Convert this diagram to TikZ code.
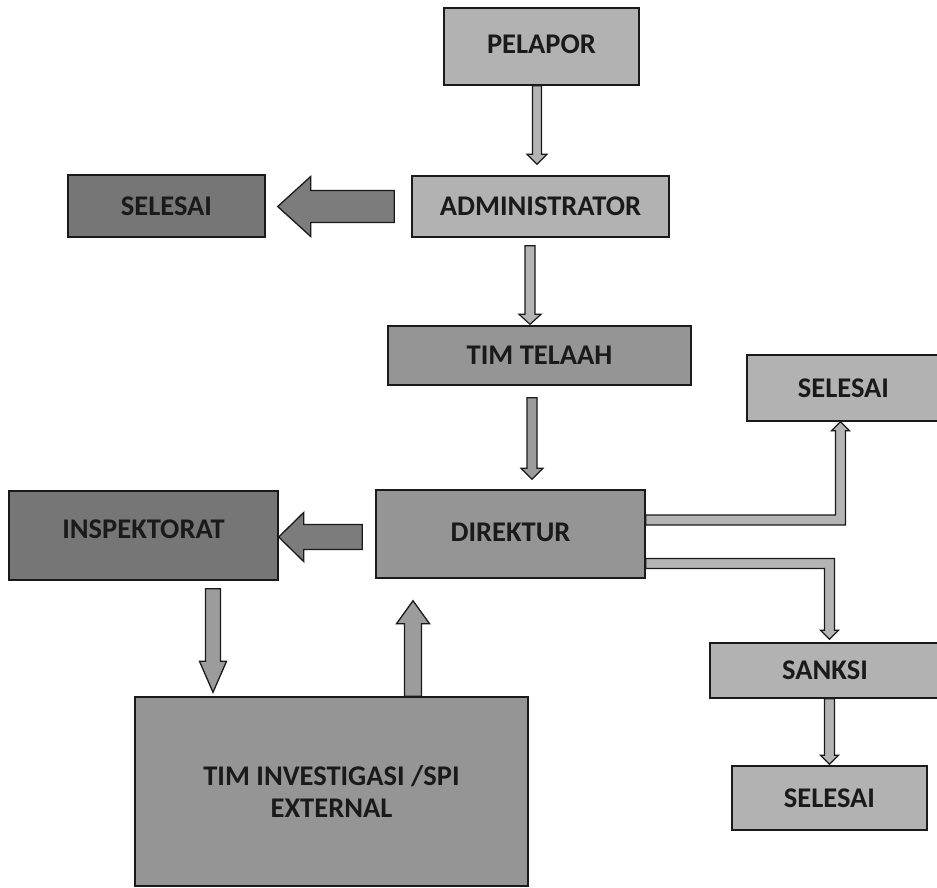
\documentclass[tikz,border=0pt]{standalone}
\usepackage{fontspec}
\setmainfont{Carlito}
\usetikzlibrary{calc}
\definecolor{boxlight}{HTML}{B2B2B2}
\definecolor{boxmid}{HTML}{959595}
\definecolor{boxdark}{HTML}{767676}
\definecolor{arrlight}{HTML}{B4B4B4}
\definecolor{arrmid}{HTML}{9C9C9C}
\definecolor{arrdark}{HTML}{7C7C7C}
\definecolor{inkc}{HTML}{1A1A1A}
\newcommand{\blockarr}[6][]{%
  \coordinate (bac) at ($(#3)!#6!(#2)$);
  \draw[#1] ($(#2)!#4!90:(#3)$) -- ($(bac)!#4!90:(#3)$) -- ($(bac)!#5!90:(#3)$) -- (#3)
    -- ($(bac)!#5!-90:(#3)$) -- ($(bac)!#4!-90:(#3)$) -- ($(#2)!#4!-90:(#3)$) -- cycle;
}
\tikzset{
  box/.style={draw=inkc, line width=1.4pt, inner sep=0pt, anchor=center, text=inkc,
    font=\bfseries\fontsize{28.5}{32}\selectfont, align=center},
  lightbox/.style={box, fill=boxlight},
  midbox/.style={box, fill=boxmid},
  darkbox/.style={box, fill=boxdark},
  thinarr/.style={draw=inkc, line width=1.2pt, fill=arrlight, line join=miter},
  bigarr/.style={draw=inkc, line width=1.3pt, fill=arrdark, line join=miter},
  medarr/.style={draw=inkc, line width=1.3pt, fill=arrmid, line join=miter},
}
\begin{document}
\begin{tikzpicture}[x=1pt,y=-1pt]
\useasboundingbox[fill=white] (0,0) rectangle (937,888);

% boxes
\node[lightbox, minimum width=195pt, minimum height=77pt] (pel) at (541.5,46.5) {\raisebox{4pt}{PELAPOR}};
\node[lightbox, minimum width=257pt, minimum height=61pt] (adm) at (540.5,206.5) {ADMINISTRATOR};
\node[darkbox, minimum width=197pt, minimum height=62pt] (sel1) at (166.5,206) {SELESAI};
\node[midbox, minimum width=303pt, minimum height=59pt] (tim) at (539.5,355.5) {TIM TELAAH};
\node[lightbox, minimum width=193pt, minimum height=66pt] (sel2) at (843.5,388) {SELESAI};
\node[midbox, minimum width=269pt, minimum height=88pt] (dir) at (510.5,534) {\raisebox{3pt}{DIREKTUR}};
\node[darkbox, minimum width=269pt, minimum height=89pt] (insp) at (143.5,535.5) {\raisebox{12pt}{INSPEKTORAT}};
\node[midbox, minimum width=393pt, minimum height=189pt] (inv) at (331.5,791.5) {TIM INVESTIGASI /SPI\\EXTERNAL};
\node[lightbox, minimum width=230pt, minimum height=55pt] (sanksi) at (825,670.5) {SANKSI};
\node[lightbox, minimum width=195pt, minimum height=64pt] (sel3) at (829.5,798) {SELESAI};

% thin arrows
\coordinate (a1s) at ([xshift=-4.5pt]pel.south);
\coordinate (a1e) at ([xshift=-3.5pt,yshift=11pt]adm.north);
\blockarr[thinarr]{a1s}{a1e}{4.5pt}{10pt}{10pt}

\coordinate (a2s) at ([xshift=-10.5pt,yshift=-8pt]adm.south);
\coordinate (a2e) at ([xshift=-9.5pt,yshift=1pt]tim.north);
\blockarr[thinarr]{a2s}{a2e}{5pt}{11pt}{10pt}

\coordinate (a3s) at ([xshift=-7.5pt,yshift=-12pt]tim.south);
\coordinate (a3e) at ([xshift=21.5pt,yshift=10pt]dir.north);
\blockarr[thinarr, fill=arrmid]{a3s}{a3e}{5pt}{11pt}{11pt}

% big arrows
\coordinate (b1s) at ([xshift=-17pt]adm.west);
\coordinate (b1t) at ([xshift=12pt]sel1.east);
\coordinate (b1e) at (b1s -| b1t);
\blockarr[bigarr]{b1s}{b1e}{16pt}{30pt}{33pt}

\coordinate (b2s) at ([xshift=-13pt,yshift=-3pt]dir.west);
\coordinate (b2e) at (b2s -| insp.east);
\blockarr[bigarr]{b2s}{b2e}{12.5pt}{24.5pt}{25pt}

\coordinate (b3s) at ([xshift=69.5pt,yshift=-8pt]insp.south);
\coordinate (b3t) at ([yshift=4pt]inv.north);
\coordinate (b3e) at (b3s |- b3t);
\blockarr[medarr]{b3s}{b3e}{7.5pt}{13.5pt}{31pt}

\coordinate (b4e) at ([xshift=-97.5pt,yshift=-22pt]dir.south);
\coordinate (b4s) at (b4e |- inv.north);
\blockarr[medarr]{b4s}{b4e}{8.5pt}{16.5pt}{23pt}

% elbow connectors
\coordinate (e1s) at ([yshift=14pt]dir.east);
\coordinate (e1c) at (e1s -| sel2.south);
\coordinate (e1e) at ([xshift=-3pt]sel2.south);
\draw[thinarr] let \p1=(e1s), \p2=(e1c), \p3=(e1e) in
  (\x1,\y1+5pt) -- (\x2-8pt,\y1+5pt) -- (\x2-8pt,\y3-9pt) -- (\x2-12pt,\y3-9pt) -- (\x3,\y3)
  -- (\x2+6pt,\y3-9pt) -- (\x2+2pt,\y3-9pt) -- (\x2+2pt,\y1-5pt) -- (\x1,\y1-5pt) -- cycle;

\coordinate (e2s) at ([yshift=-29.5pt]dir.east);
\coordinate (e2c) at (e2s -| sel3.north);
\coordinate (e2t) at ([yshift=3pt]sanksi.north);
\coordinate (e2e) at (e2c |- e2t);
\draw[thinarr] let \p1=(e2s), \p2=(e2c), \p3=(e2e) in
  (\x1,\y1+5pt) -- (\x2+5pt,\y1+5pt) -- (\x2+5pt,\y3+9pt) -- (\x2+9pt,\y3+9pt) -- (\x3,\y3)
  -- (\x2-9pt,\y3+9pt) -- (\x2-5pt,\y3+9pt) -- (\x2-5pt,\y1-5pt) -- (\x1,\y1-5pt) -- cycle;

\coordinate (a4s) at (sel3.north |- sanksi.south);
\coordinate (a4e) at ([yshift=1pt]sel3.north);
\blockarr[thinarr]{a4s}{a4e}{5pt}{9pt}{9pt}
\end{tikzpicture}
\end{document}
